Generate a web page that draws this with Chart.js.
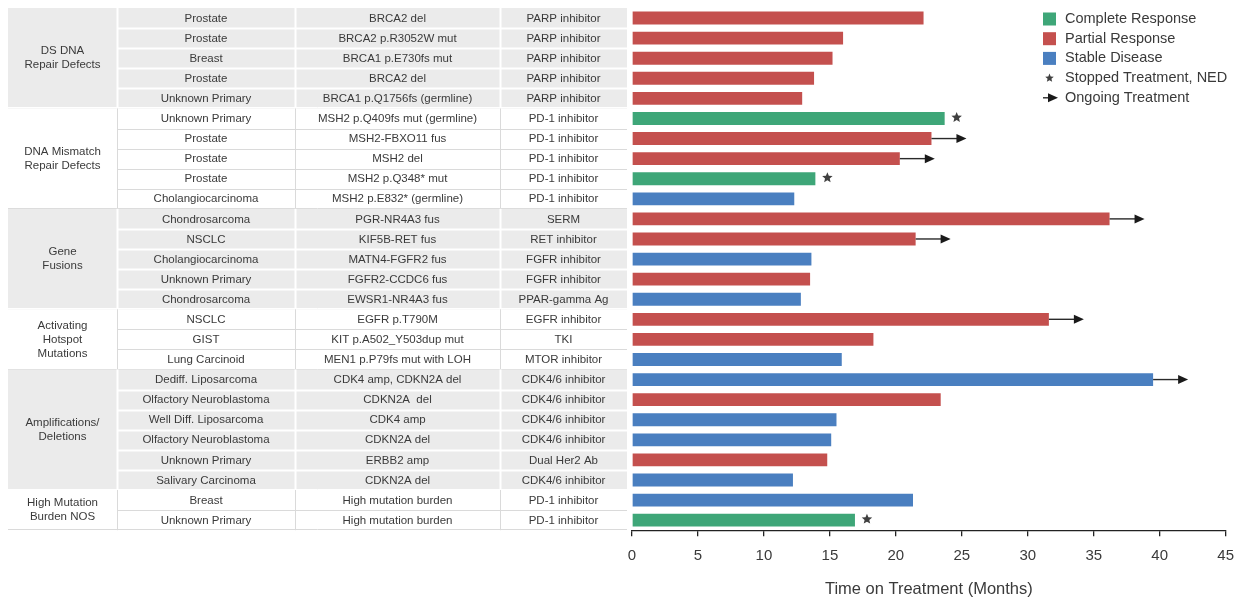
<!DOCTYPE html>
<html>
<head>
<meta charset="utf-8">
<script src="https://cdn.jsdelivr.net/npm/chart.js@4.4.1/dist/chart.umd.min.js"></script>
<style>
  html, body { margin: 0; padding: 0; background: #ffffff; }
  #chart { display: block; }
</style>
</head>
<body>
<canvas id="chart" width="1245" height="599"></canvas>
<script>
// ---- Data ---------------------------------------------------------------
const groupLabels = [
  ['DS DNA', 'Repair Defects'],
  ['DNA Mismatch', 'Repair Defects'],
  ['Gene', 'Fusions'],
  ['Activating', 'Hotspot', 'Mutations'],
  ['Amplifications/', 'Deletions'],
  ['High Mutation', 'Burden NOS']
];
const groupSizes = [5, 5, 5, 3, 6, 2];

const tumourTypes = [
  'Prostate', 'Prostate', 'Breast', 'Prostate', 'Unknown Primary',
  'Unknown Primary', 'Prostate', 'Prostate', 'Prostate', 'Cholangiocarcinoma',
  'Chondrosarcoma', 'NSCLC', 'Cholangiocarcinoma', 'Unknown Primary', 'Chondrosarcoma',
  'NSCLC', 'GIST', 'Lung Carcinoid',
  'Dediff. Liposarcoma', 'Olfactory Neuroblastoma', 'Well Diff. Liposarcoma',
  'Olfactory Neuroblastoma', 'Unknown Primary', 'Salivary Carcinoma',
  'Breast', 'Unknown Primary'
];
const alterations = [
  'BRCA2 del', 'BRCA2 p.R3052W mut', 'BRCA1 p.E730fs mut', 'BRCA2 del', 'BRCA1 p.Q1756fs (germline)',
  'MSH2 p.Q409fs mut (germline)', 'MSH2-FBXO11 fus', 'MSH2 del', 'MSH2 p.Q348* mut', 'MSH2 p.E832* (germline)',
  'PGR-NR4A3 fus', 'KIF5B-RET fus', 'MATN4-FGFR2 fus', 'FGFR2-CCDC6 fus', 'EWSR1-NR4A3 fus',
  'EGFR p.T790M', 'KIT p.A502_Y503dup mut', 'MEN1 p.P79fs mut with LOH',
  'CDK4 amp, CDKN2A del', 'CDKN2A  del', 'CDK4 amp', 'CDKN2A del', 'ERBB2 amp', 'CDKN2A del',
  'High mutation burden', 'High mutation burden'
];
const therapies = [
  'PARP inhibitor', 'PARP inhibitor', 'PARP inhibitor', 'PARP inhibitor', 'PARP inhibitor',
  'PD-1 inhibitor', 'PD-1 inhibitor', 'PD-1 inhibitor', 'PD-1 inhibitor', 'PD-1 inhibitor',
  'SERM', 'RET inhibitor', 'FGFR inhibitor', 'FGFR inhibitor', 'PPAR-gamma Ag',
  'EGFR inhibitor', 'TKI', 'MTOR inhibitor',
  'CDK4/6 inhibitor', 'CDK4/6 inhibitor', 'CDK4/6 inhibitor', 'CDK4/6 inhibitor', 'Dual Her2 Ab', 'CDK4/6 inhibitor',
  'PD-1 inhibitor', 'PD-1 inhibitor'
];
// Time on treatment, months
const months = [
  22.1, 16.0, 15.2, 13.8, 12.9,
  23.7, 22.7, 20.3, 13.9, 12.3,
  36.2, 21.5, 13.6, 13.5, 12.8,
  31.6, 18.3, 15.9,
  39.5, 23.4, 15.5, 15.1, 14.8, 12.2,
  21.3, 16.9
];
// CR = complete response, PR = partial response, SD = stable disease
const responses = [
  'PR', 'PR', 'PR', 'PR', 'PR',
  'CR', 'PR', 'PR', 'CR', 'SD',
  'PR', 'PR', 'SD', 'PR', 'SD',
  'PR', 'PR', 'SD',
  'SD', 'PR', 'SD', 'SD', 'PR', 'SD',
  'SD', 'CR'
];
const ongoingRows = [6, 7, 10, 11, 15, 18];
const stoppedNedRows = [5, 8, 25];
const xTicks = [0, 5, 10, 15, 20, 25, 30, 35, 40, 45];
const responseKeys = ['CR', 'PR', 'SD'];
const responseNames = ['Complete Response', 'Partial Response', 'Stable Disease'];
const markerNames = ['Stopped Treatment, NED', 'Ongoing Treatment'];

// ---- Styles -------------------------------------------------------------
const FONT = '"Liberation Sans", Arial, Helvetica, sans-serif';
const responseColors = { CR: '#3ea678', PR: '#c4504e', SD: '#4a7fc0' };
const TEXT = '#3a3a3a';
const SHADE = '#ebebeb';
const colEdges = [8, 117, 295, 500, 627];

function drawStar(ctx, cx, cy, r) {
  ctx.beginPath();
  for (let k = 0; k < 10; k++) {
    const rad = k % 2 === 0 ? r : r * 0.45;
    const a = -Math.PI / 2 + k * Math.PI / 5;
    const px = cx + rad * Math.cos(a), py = cy + rad * Math.sin(a);
    k === 0 ? ctx.moveTo(px, py) : ctx.lineTo(px, py);
  }
  ctx.closePath();
  ctx.fill();
}

function drawArrow(ctx, x0, x1, y) {
  ctx.save();
  ctx.strokeStyle = '#2a2a2a';
  ctx.fillStyle = '#1a1a1a';
  ctx.lineWidth = 1.4;
  ctx.beginPath();
  ctx.moveTo(x0, y);
  ctx.lineTo(x1 - 8, y);
  ctx.stroke();
  ctx.beginPath();
  ctx.moveTo(x1, y);
  ctx.lineTo(x1 - 10, y - 4.5);
  ctx.lineTo(x1 - 10, y + 4.5);
  ctx.closePath();
  ctx.fill();
  ctx.restore();
}

// Table of tumour type / alteration / therapy drawn left of the plot, aligned to the row scale
const sideTable = {
  id: 'sideTable',
  beforeDatasetsDraw(chart) {
    const ctx = chart.ctx;
    const yS = chart.scales.y;
    const pitch = yS.getPixelForValue(1) - yS.getPixelForValue(0);
    const left = colEdges[0], right = colEdges[colEdges.length - 1];
    ctx.save();
    let start = 0;
    groupSizes.forEach((n, g) => {
      const shaded = g % 2 === 0;
      const top = yS.getPixelForValue(start) - pitch / 2;
      const bottom = yS.getPixelForValue(start + n - 1) + pitch / 2;
      if (shaded) {
        ctx.fillStyle = SHADE;
        ctx.fillRect(left, top, right - left, bottom - top);
      }
      // row separators (not across the merged group cell)
      ctx.strokeStyle = shaded ? '#ffffff' : '#dadada';
      ctx.lineWidth = shaded ? 2 : 1;
      for (let r = 1; r < n; r++) {
        const y = Math.round(yS.getPixelForValue(start + r) - pitch / 2) + 0.5;
        ctx.beginPath();
        ctx.moveTo(colEdges[1], y);
        ctx.lineTo(right, y);
        ctx.stroke();
      }
      // group boundary
      ctx.strokeStyle = shaded ? '#ffffff' : '#dadada';
      ctx.lineWidth = 1;
      ctx.beginPath();
      ctx.moveTo(left, Math.round(bottom) - 0.5);
      ctx.lineTo(right, Math.round(bottom) - 0.5);
      ctx.stroke();
      // column separators
      ctx.lineWidth = shaded ? 2 : 1;
      for (let c = 1; c < colEdges.length - 1; c++) {
        const x = colEdges[c] + 0.5;
        ctx.beginPath();
        ctx.moveTo(x, top);
        ctx.lineTo(x, bottom);
        ctx.stroke();
      }
      // group label
      ctx.fillStyle = TEXT;
      ctx.font = '11.5px ' + FONT;
      ctx.textAlign = 'center';
      ctx.textBaseline = 'middle';
      const lines = groupLabels[g];
      const lh = 14;
      const midY = (top + bottom) / 2;
      lines.forEach((t, k) => {
        ctx.fillText(t, (colEdges[0] + colEdges[1]) / 2, midY + (k - (lines.length - 1) / 2) * lh);
      });
      start += n;
    });
    // cell texts
    ctx.fillStyle = TEXT;
    ctx.font = '11.5px ' + FONT;
    ctx.textAlign = 'center';
    ctx.textBaseline = 'middle';
    const cols = [tumourTypes, alterations, therapies];
    for (let i = 0; i < months.length; i++) {
      const y = yS.getPixelForValue(i) + 0.5;
      cols.forEach((arr, c) => {
        ctx.fillText(arr[i], (colEdges[c + 1] + colEdges[c + 2]) / 2, y);
      });
    }
    ctx.restore();
  },
  afterDatasetsDraw(chart) {
    const ctx = chart.ctx;
    const xS = chart.scales.x, yS = chart.scales.y;
    ctx.save();
    ongoingRows.forEach(i => {
      const x0 = xS.getPixelForValue(months[i]);
      drawArrow(ctx, x0, x0 + 35, yS.getPixelForValue(i));
    });
    ctx.fillStyle = '#404040';
    stoppedNedRows.forEach(i => {
      drawStar(ctx, xS.getPixelForValue(months[i]) + 12, yS.getPixelForValue(i) - 1, 5.5);
    });
    ctx.restore();
  }
};

// Legend in the top right corner
const keyLegend = {
  id: 'keyLegend',
  afterDraw(chart) {
    const ctx = chart.ctx;
    const x = 1043, y0 = 19, step = 19.7;
    ctx.save();
    ctx.font = '14.5px ' + FONT;
    ctx.textAlign = 'left';
    ctx.textBaseline = 'middle';
    responseKeys.forEach((k, i) => {
      const y = y0 + i * step;
      ctx.fillStyle = responseColors[k];
      ctx.fillRect(x, y - 6.5, 13, 13);
      ctx.fillStyle = TEXT;
      ctx.fillText(responseNames[i], x + 22, y);
    });
    let y = y0 + 3 * step;
    ctx.fillStyle = '#404040';
    drawStar(ctx, x + 6.5, y, 4.5);
    ctx.fillStyle = TEXT;
    ctx.fillText(markerNames[0], x + 22, y);
    y = y0 + 4 * step;
    drawArrow(ctx, x, x + 15, y);
    ctx.fillStyle = TEXT;
    ctx.fillText(markerNames[1], x + 22, y);
    ctx.restore();
  }
};

const datasets = responseKeys.map((k, j) => ({
  label: responseNames[j],
  data: months.map((v, i) => responses[i] === k ? v : null),
  backgroundColor: responseColors[k],
  borderWidth: 0,
  grouped: false,
  barPercentage: 0.64,
  categoryPercentage: 1
}));

new Chart(document.getElementById('chart'), {
  type: 'bar',
  data: { labels: months.map((_, i) => String(i + 1)), datasets },
  options: {
    indexAxis: 'y',
    responsive: false,
    animation: false,
    devicePixelRatio: 1,
    layout: { padding: { left: 632, right: 18, top: 8, bottom: 0 } },
    plugins: { legend: { display: false }, tooltip: { enabled: false } },
    scales: {
      y: { type: 'category', display: false, offset: true, grid: { display: false } },
      x: {
        type: 'linear', min: 0, max: 45,
        afterBuildTicks: s => { s.ticks = xTicks.map(v => ({ value: v })); },
        ticks: { color: TEXT, font: { family: FONT, size: 15 }, padding: 11 },
        grid: { drawOnChartArea: false, drawTicks: true, tickLength: 6, color: '#222', lineWidth: 1.3 },
        border: { display: true, color: '#222', width: 1.3 },
        title: {
          display: true, text: 'Time on Treatment (Months)', color: TEXT,
          font: { family: FONT, size: 16.5 }, padding: { top: 3, bottom: 0 }
        }
      }
    }
  },
  plugins: [sideTable, keyLegend]
});
</script>
</body>
</html>
